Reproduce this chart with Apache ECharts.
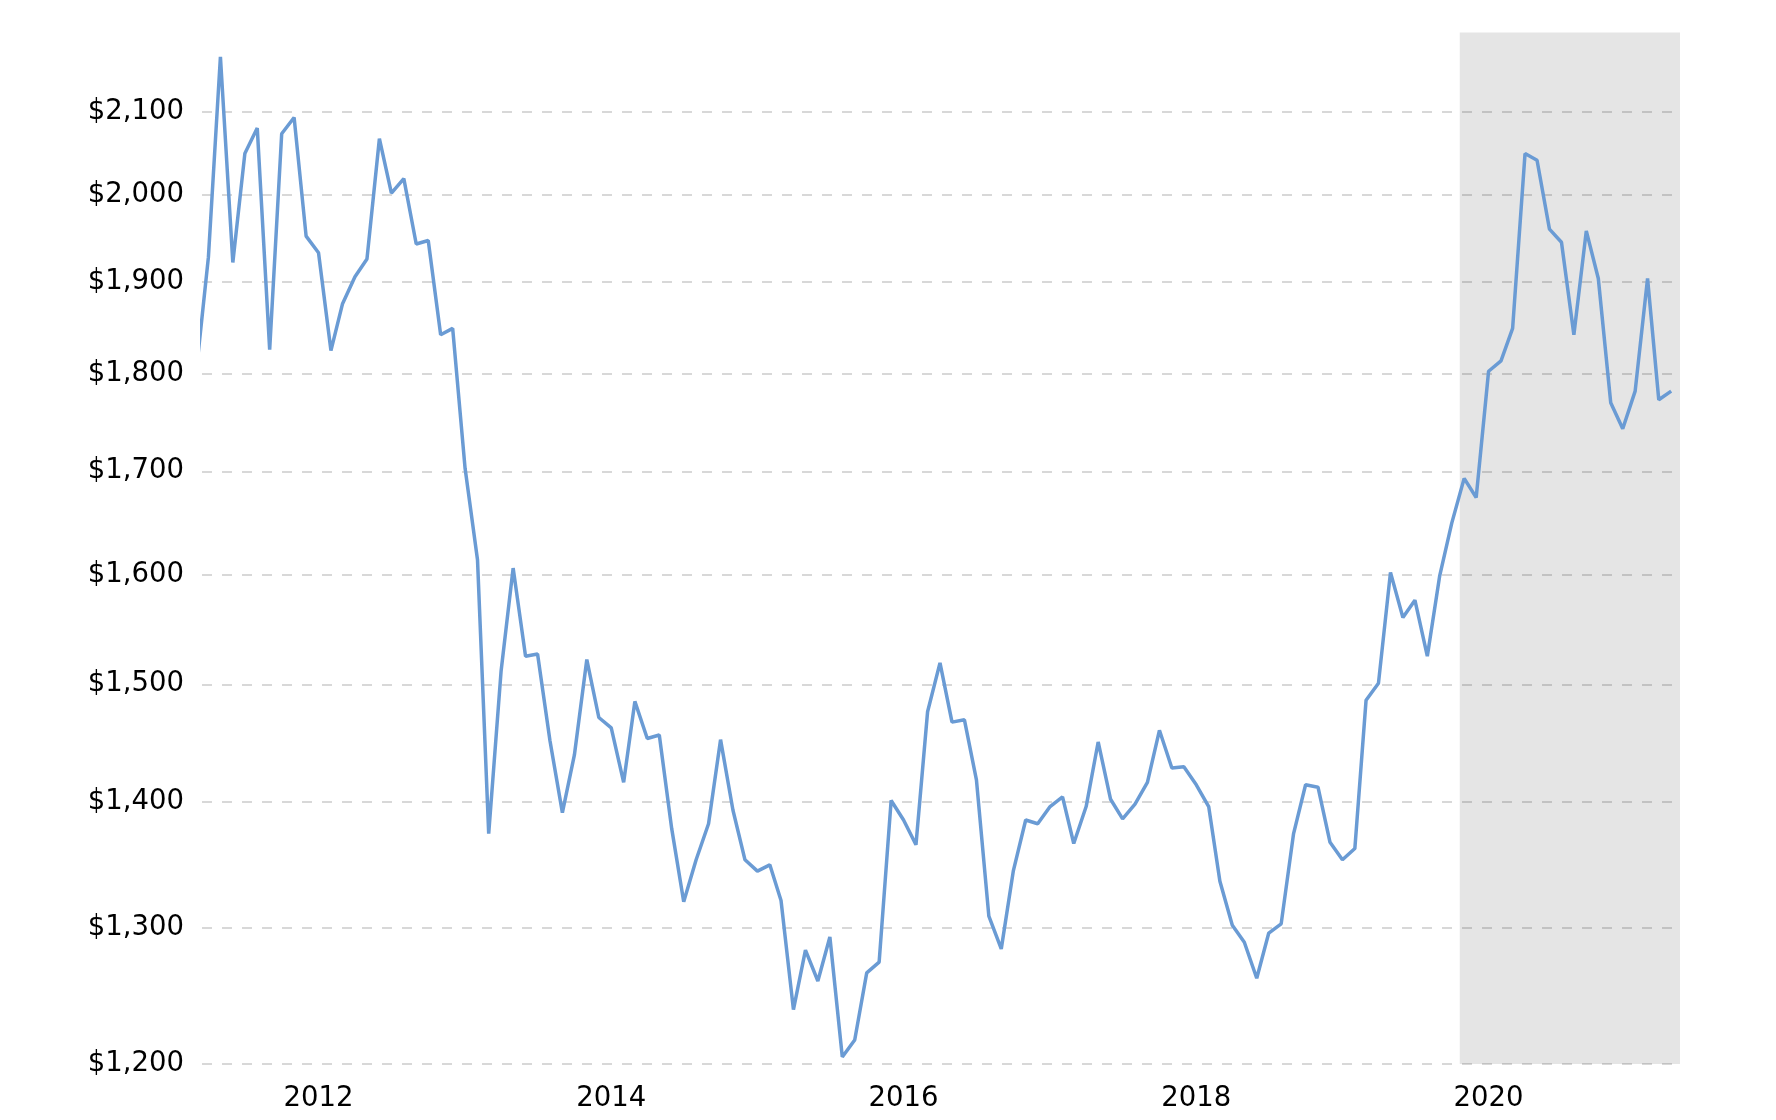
<!DOCTYPE html>
<html>
<head>
<meta charset="utf-8">
<script src="https://cdn.jsdelivr.net/npm/echarts@6/dist/echarts.min.js"></script>
<style>
html,body{margin:0;padding:0;background:#ffffff;}
#chart{width:1776px;height:1120px;}
</style>
</head>
<body>
<div id="chart"></div>
<script>
// ---- data ----
const months = [
  '2011-03','2011-04','2011-05','2011-06','2011-07','2011-08','2011-09','2011-10','2011-11','2011-12',
  '2012-01','2012-02','2012-03','2012-04','2012-05','2012-06','2012-07','2012-08','2012-09','2012-10','2012-11','2012-12',
  '2013-01','2013-02','2013-03','2013-04','2013-05','2013-06','2013-07','2013-08','2013-09','2013-10','2013-11','2013-12',
  '2014-01','2014-02','2014-03','2014-04','2014-05','2014-06','2014-07','2014-08','2014-09','2014-10','2014-11','2014-12',
  '2015-01','2015-02','2015-03','2015-04','2015-05','2015-06','2015-07','2015-08','2015-09','2015-10','2015-11','2015-12',
  '2016-01','2016-02','2016-03','2016-04','2016-05','2016-06','2016-07','2016-08','2016-09','2016-10','2016-11','2016-12',
  '2017-01','2017-02','2017-03','2017-04','2017-05','2017-06','2017-07','2017-08','2017-09','2017-10','2017-11','2017-12',
  '2018-01','2018-02','2018-03','2018-04','2018-05','2018-06','2018-07','2018-08','2018-09','2018-10','2018-11','2018-12',
  '2019-01','2019-02','2019-03','2019-04','2019-05','2019-06','2019-07','2019-08','2019-09','2019-10','2019-11','2019-12',
  '2020-01','2020-02','2020-03','2020-04','2020-05','2020-06','2020-07','2020-08','2020-09','2020-10','2020-11','2020-12',
  '2021-01','2021-02','2021-03','2021-04'
];
const prices = [
  1800,1928,2169,1922,2049,2080,1826,2073,2093,1952,
  1933,1825,1876,1906,1926,2067,2002,2019,1943,1947,1842,1849,
  1703,1614,1374,1512,1606,1525,1527,1451,1391,1439,1522,1471,
  1462,1416,1485,1453,1456,1378,1320,1353,1382,1452,1393,1353,
  1344,1349,1321,1239,1283,1260,1293,1205,1217,1266,1274,1401,
  1385,1365,1476,1519,1467,1469,1418,1309,1284,1344,1385,1382,
  1396,1404,1366,1396,1450,1402,1386,1398,1416,1460,1428,1429,
  1414,1396,1336,1302,1289,1262,1296,1303,1374,1414,1412,1367,
  1353,1362,1486,1501,1602,1560,1576,1525,1599,1649,1693,1674,
  1803,1814,1849,2049,2041,1960,1945,1842,1958,1904,1770,1743,
  1782,1904,1773,1782
];
const yTicks = [1200,1300,1400,1500,1600,1700,1800,1900,2000,2100];
const xLabelYears = [2012,2014,2016,2018,2020];
const shadeStartDate = [2019, 10, 21];
const xMinDate = [2011, 3, 16];
const xMaxDate = [2021, 4, 23];

// ---- helpers ----
function ts(y, m, d) { return new Date(y, m - 1, d || 1).getTime(); }
function monthTs(s) { const p = s.split('-'); return ts(+p[0], +p[1], 1); }

const seriesData = months.map((m, i) => [monthTs(m), prices[i]]);
const xLabelValues = xLabelYears.map(y => ts(y, 1, 1));
const shadeStart = ts.apply(null, shadeStartDate);
const xMin = ts.apply(null, xMinDate);
const xMax = ts.apply(null, xMaxDate);

const chart = echarts.init(document.getElementById('chart'), null, {renderer: 'canvas'});
const fontFamily = '"DejaVu Sans", Verdana, sans-serif';
chart.setOption({
  animation: false,
  backgroundColor: '#ffffff',
  grid: {left: 202, right: 96, top: 32.6, bottom: 56, containLabel: false},
  xAxis: {
    type: 'value',
    min: xMin,
    max: xMax,
    axisLine: {show: false},
    axisTick: {show: false},
    splitLine: {show: false},
    axisLabel: {
      customValues: xLabelValues,
      formatter: function (v) { return String(new Date(v).getFullYear()); },
      color: '#000000',
      fontFamily: fontFamily,
      fontSize: 27.5,
      margin: 21,
      showMinLabel: true,
      showMaxLabel: true
    }
  },
  yAxis: {
    type: 'log',
    logBase: 10,
    min: 1200,
    max: 2200,
    axisLine: {show: false},
    axisTick: {show: false, customValues: yTicks},
    axisLabel: {
      customValues: yTicks,
      formatter: function (v) { return '$' + Math.round(v).toLocaleString('en-US'); },
      color: '#000000',
      fontFamily: fontFamily,
      fontSize: 27.5,
      margin: 18,
      padding: [7, 0, 0, 0]
    },
    splitLine: {
      show: true,
      lineStyle: {color: '#d8d8d8', width: 2, type: [10, 10]}
    }
  },
  series: [{
    type: 'line',
    data: seriesData,
    showSymbol: false,
    symbol: 'none',
    clip: true,
    lineStyle: {color: '#6a9bd4', width: 3.5},
    itemStyle: {color: '#6a9bd4'},
    markArea: {
      silent: true,
      itemStyle: {color: 'rgba(0,0,0,0.1)'},
      data: [[{xAxis: shadeStart}, {xAxis: xMax}]]
    }
  }]
});
</script>
</body>
</html>
